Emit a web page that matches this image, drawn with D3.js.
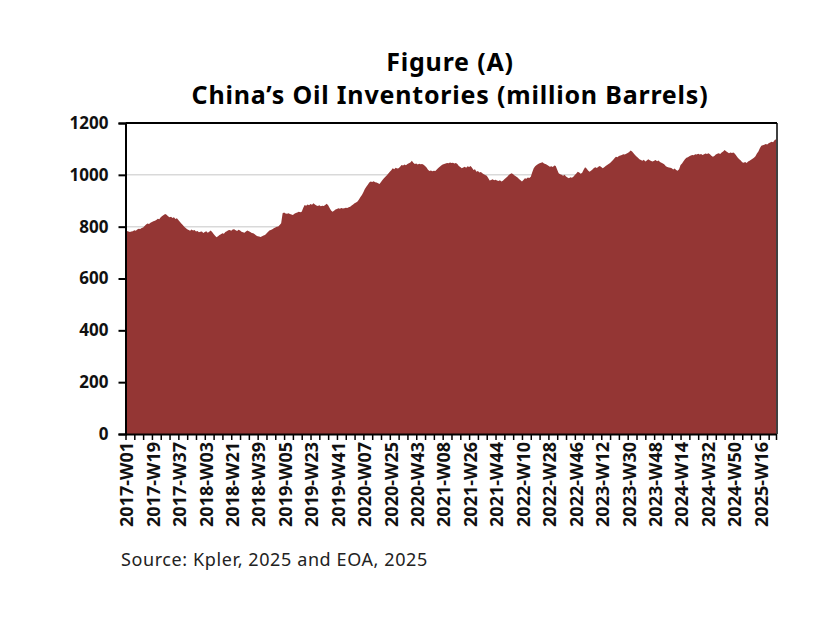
<html>
<head>
<meta charset="utf-8">
<title>China's Oil Inventories</title>
<style>
  body { margin: 0; background: #fff; }
  text { font-family: "Noto Sans", "DejaVu Sans", sans-serif; }
</style>
</head>
<body>
<svg width="816" height="628"></svg>
<script src="https://d3js.org/d3.v7.min.js"></script>
<script>
// weekly inventories, million barrels, starting 2017-W01
var inventory = [
  785, 783, 781, 779, 781, 782, 786, 784, 789, 792,
  791, 795, 797, 803, 808, 812, 810, 815, 818, 821,
  823, 826, 831, 829, 836, 841, 845, 849, 846, 840,
  836, 838, 833, 836, 830, 832, 826, 819, 812, 806,
  800, 795, 790, 787, 784, 789, 785, 787, 781, 783,
  778, 780, 781, 776, 779, 782, 777, 780, 785, 779,
  772, 765, 759, 763, 768, 771, 775, 773, 779, 782,
  786, 787, 784, 789, 790, 786, 783, 788, 785, 780,
  778, 777, 781, 785, 782, 779, 776, 775, 771, 766,
  763, 762, 760, 763, 766, 768, 774, 779, 785, 787,
  790, 794, 797, 800, 801, 806, 813, 852, 855, 851,
  850, 852, 849, 847, 845, 850, 853, 855, 858, 856,
  858, 872, 884, 881, 886, 883, 887, 885, 890, 886,
  882, 880, 883, 879, 881, 880, 884, 888, 883, 872,
  862, 858, 861, 866, 868, 871, 869, 872, 870, 871,
  873, 872, 875, 877, 882, 886, 890, 893, 897, 905,
  914, 922, 933, 945, 954, 962, 970, 974, 972, 975,
  971, 970, 968, 965, 972, 980, 987, 993, 998, 1005,
  1012, 1018, 1025, 1022, 1027, 1024, 1025, 1031, 1038, 1036,
  1040, 1037, 1042, 1045, 1048, 1054, 1047, 1042, 1044, 1040,
  1043, 1041, 1042, 1039, 1034, 1028, 1020, 1015, 1017, 1014,
  1016, 1015, 1021, 1026, 1031, 1036, 1040, 1042, 1044, 1046,
  1045, 1048, 1046, 1047, 1044, 1046, 1042, 1034, 1030, 1025,
  1028, 1031, 1027, 1033, 1030, 1034, 1027, 1019, 1022, 1012,
  1015, 1009, 1011, 1006, 1002, 999, 996, 988, 978, 980,
  983, 979, 981, 978, 976, 979, 974, 977, 983, 988,
  993, 999, 1003, 1006, 1002, 997, 994, 990, 984, 979,
  974, 980, 987, 985, 990, 988, 993, 1010, 1025, 1033,
  1038, 1042, 1045, 1047, 1049, 1044, 1042, 1039, 1035, 1031,
  1033, 1030, 1036, 1034, 1020, 1006, 1002, 1000, 996, 1000,
  994, 990, 987, 991, 989, 993, 999, 1005, 1012, 1009,
  1004, 1008, 1020, 1029, 1024, 1017, 1012, 1016, 1021, 1026,
  1029, 1026, 1031, 1034, 1030, 1025, 1029, 1034, 1038, 1042,
  1046, 1051, 1057, 1064, 1070, 1068, 1073, 1075, 1077, 1079,
  1078, 1081, 1084, 1088, 1094, 1090, 1083, 1077, 1071, 1066,
  1060, 1057, 1054, 1058, 1051, 1055, 1060, 1056, 1053, 1051,
  1054, 1057, 1052, 1055, 1050, 1047, 1044, 1040, 1033, 1030,
  1028, 1027, 1025, 1021, 1024, 1019, 1016, 1022, 1038, 1044,
  1052, 1060, 1066, 1068, 1072, 1075, 1077, 1076, 1079, 1078,
  1081, 1078, 1080, 1077, 1079, 1082, 1080, 1083, 1079, 1074,
  1070, 1073, 1078, 1081, 1083, 1080, 1086, 1090, 1096, 1091,
  1087, 1083, 1086, 1084, 1086, 1081, 1074, 1066, 1060, 1055,
  1049, 1047, 1050, 1046, 1051, 1054, 1058, 1062, 1066, 1072,
  1082, 1090, 1103, 1112, 1114, 1116, 1119, 1117, 1122, 1125,
  1128, 1126, 1133, 1137
];

var years = [2017, 2018, 2019, 2020, 2021, 2022, 2023, 2024, 2025];
var weeksInYear = [52, 52, 52, 53, 52, 52, 52, 52, 52];

var tickLabels = [
  "2017-W01", "2017-W19", "2017-W37", "2018-W03", "2018-W21", "2018-W39",
  "2019-W05", "2019-W23", "2019-W41", "2020-W07", "2020-W25", "2020-W43",
  "2021-W08", "2021-W26", "2021-W44", "2022-W10", "2022-W28", "2022-W46",
  "2023-W12", "2023-W30", "2023-W48", "2024-W14", "2024-W32", "2024-W50",
  "2025-W16"
];

var yTicks = [0, 200, 400, 600, 800, 1000, 1200];

// category labels for each weekly point
var weeks = [];
years.forEach(function(yr, i) {
  for (var w = 1; w <= weeksInYear[i]; w++) {
    if (weeks.length < inventory.length) weeks.push(yr + "-W" + (w < 10 ? "0" + w : w));
  }
});

var data = weeks.map(function(wk, i) { return { week: wk, value: inventory[i] }; });

var svg = d3.select("svg");
var plotLeft = 125.5, plotRight = 776, plotTop = 123, plotBottom = 434;

var x = d3.scalePoint().domain(weeks).range([plotLeft, plotRight]);
var y = d3.scaleLinear().domain([0, 1200]).range([plotBottom, plotTop]);

// gridlines
svg.append("g")
  .selectAll("line")
  .data(yTicks.filter(function(d) { return d > 0 && d < 1200; }))
  .enter()
  .append("line")
  .attr("x1", plotLeft).attr("x2", plotRight)
  .attr("y1", function(d) { return y(d); })
  .attr("y2", function(d) { return y(d); })
  .style("stroke", "#d9d9d9")
  .style("stroke-width", 1.5);

// area
var area = d3.area()
  .x(function(d) { return x(d.week); })
  .y0(y(0))
  .y1(function(d) { return y(d.value); });

svg.append("path")
  .datum(data)
  .attr("d", area)
  .style("fill", "#943634");

// plot border top / right
svg.append("line")
  .attr("x1", plotLeft).attr("x2", plotRight + 1)
  .attr("y1", y(1200)).attr("y2", y(1200))
  .style("stroke", "#000").style("stroke-width", 2);
svg.append("line")
  .attr("x1", plotRight + 1).attr("x2", plotRight + 1)
  .attr("y1", y(1200)).attr("y2", y(0))
  .style("stroke", "#000").style("stroke-width", 1.5);

// y axis
var yAxis = svg.append("g")
  .attr("transform", "translate(" + plotLeft + ",0)")
  .call(d3.axisLeft(y).tickValues(yTicks).tickSize(7).tickPadding(10).tickFormat(d3.format("d")));
yAxis.select(".domain").style("stroke", "#000").style("stroke-width", 2);
yAxis.selectAll(".tick line").style("stroke", "#000").style("stroke-width", 2);
yAxis.selectAll("text")
  .style("font-size", "17px").style("font-weight", "bold").style("fill", "#111");

// x axis: ticks every 6 weeks, labels every 18
var tickWeeks = weeks.filter(function(d, i) { return i % 6 === 0; });
tickWeeks.push(weeks[weeks.length - 1]);
var xAxis = svg.append("g")
  .attr("transform", "translate(0," + plotBottom + ")")
  .call(d3.axisBottom(x).tickValues(tickWeeks).tickSize(6).tickSizeOuter(0)
    .tickFormat(function(d) { return tickLabels.indexOf(d) >= 0 ? d : ""; }));
xAxis.select(".domain").style("stroke", "#000").style("stroke-width", 2);
xAxis.selectAll(".tick line").style("stroke", "#000").style("stroke-width", 1.5);
xAxis.selectAll("text")
  .attr("transform", "rotate(-90)")
  .attr("x", -8).attr("y", 1).attr("dy", "0.35em")
  .style("text-anchor", "end")
  .style("font-size", "18px").style("font-weight", "bold").style("fill", "#111");

// titles
svg.append("text")
  .attr("x", 450).attr("y", 71)
  .style("text-anchor", "middle").style("font-size", "25px").style("font-weight", "bold")
  .style("letter-spacing", "0.8px")
  .text("Figure (A)");
svg.append("text")
  .attr("x", 450).attr("y", 104)
  .style("text-anchor", "middle").style("font-size", "25px").style("font-weight", "bold")
  .style("letter-spacing", "0.8px")
  .text("China\u2019s Oil Inventories (million Barrels)");

svg.append("text")
  .attr("x", 121).attr("y", 566)
  .style("font-size", "18px").style("fill", "#222").style("letter-spacing", "0.6px")
  .text("Source: Kpler, 2025 and EOA, 2025");
</script>
</body>
</html>
